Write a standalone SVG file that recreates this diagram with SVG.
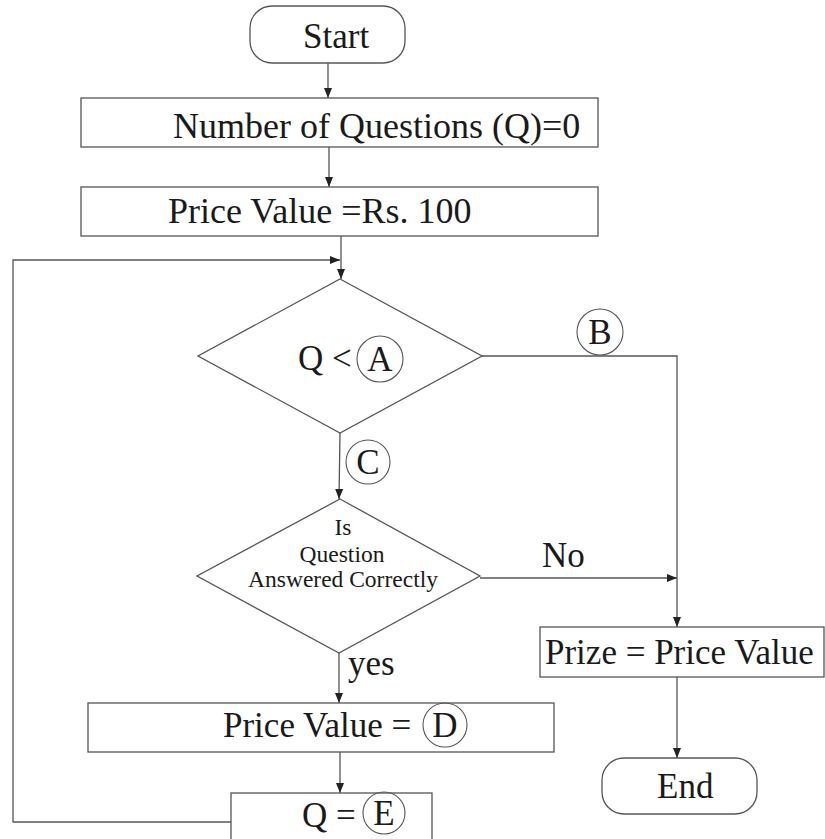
<svg xmlns="http://www.w3.org/2000/svg" width="825" height="839" viewBox="0 0 825 839">
<style>
.shape{fill:#fff;stroke:#555;stroke-width:1.3}
.circ{fill:none;stroke:#555;stroke-width:1.1}
.conn{fill:none;stroke:#555;stroke-width:1.3}
text{font-family:"Liberation Serif","Times New Roman",serif;fill:#1a1a1a;font-size:35px}
.big{font-size:36px}
.small{font-size:23.5px}
.mid{text-anchor:middle}
</style>
<defs>
<marker id="arr" markerUnits="userSpaceOnUse" markerWidth="10" markerHeight="8" refX="10" refY="4" orient="auto">
<path d="M0,0 L10,4 L0,8 z" fill="#222"/>
</marker>
</defs>
<rect width="825" height="839" fill="#fff"/>
<g id="connectors">
<line class="conn" x1="328" y1="63" x2="328" y2="98" marker-end="url(#arr)"/>
<line class="conn" x1="329" y1="147" x2="329" y2="187" marker-end="url(#arr)"/>
<line class="conn" x1="341" y1="236" x2="341" y2="279" marker-end="url(#arr)"/>
<polyline class="conn" points="231,822 13,822 13,260 340,260" marker-end="url(#arr)"/>
<line class="conn" x1="340" y1="433" x2="339" y2="499" marker-end="url(#arr)"/>
<line class="conn" x1="339" y1="653" x2="339" y2="703" marker-end="url(#arr)"/>
<line class="conn" x1="340" y1="752" x2="340" y2="793" marker-end="url(#arr)"/>
<polyline class="conn" points="482,356 677,356 677,627" marker-end="url(#arr)"/>
<line class="conn" x1="480" y1="578" x2="677" y2="578" marker-end="url(#arr)"/>
<line class="conn" x1="677" y1="677" x2="677" y2="758" marker-end="url(#arr)"/>
<text x="542" y="567">No</text>
<text x="348" y="675">yes</text>
<circle class="circ" cx="600" cy="332" r="23"/>
<text class="mid" x="600" y="344">B</text>
<circle class="circ" cx="368" cy="462" r="22"/>
<text class="mid" x="368" y="474">C</text>
</g>
<g id="start">
<rect class="shape" x="250" y="6" width="155" height="57" rx="22" ry="22"/>
<text x="303" y="48">Start</text>
</g>
<g id="init-q">
<rect class="shape" x="81" y="98" width="517" height="49"/>
<text class="big" x="173" y="138">Number of Questions (Q)=0</text>
</g>
<g id="init-price">
<rect class="shape" x="81" y="187" width="517" height="49"/>
<text class="big" x="168" y="223">Price Value =Rs. 100</text>
</g>
<g id="decision-q">
<polygon class="shape" points="340,279 482,356 340,433 198,356"/>
<text x="298" y="370">Q &lt;</text>
<circle class="circ" cx="380" cy="359" r="23"/>
<text class="mid" x="380" y="371">A</text>
</g>
<g id="decision-answer">
<polygon class="shape" points="340,499 480,576 339,653 197,576"/>
<text class="small mid" x="343" y="535">Is</text>
<text class="small mid" x="342" y="562">Question</text>
<text class="small mid" x="343" y="587">Answered Correctly</text>
</g>
<g id="update-price">
<rect class="shape" x="88" y="703" width="466" height="49"/>
<text x="223" y="737">Price Value =</text>
<circle class="circ" cx="445" cy="725" r="22"/>
<text class="mid" x="445" y="737">D</text>
</g>
<g id="update-q">
<rect class="shape" x="231" y="793" width="201" height="60"/>
<text x="302" y="827">Q =</text>
<circle class="circ" cx="384" cy="813" r="21"/>
<text class="mid" x="384" y="825">E</text>
</g>
<g id="prize">
<rect class="shape" x="540" y="627" width="284" height="50"/>
<text x="545" y="664">Prize = Price Value</text>
</g>
<g id="end">
<rect class="shape" x="602" y="758" width="155" height="56" rx="22" ry="22"/>
<text x="657" y="798">End</text>
</g>
</svg>
